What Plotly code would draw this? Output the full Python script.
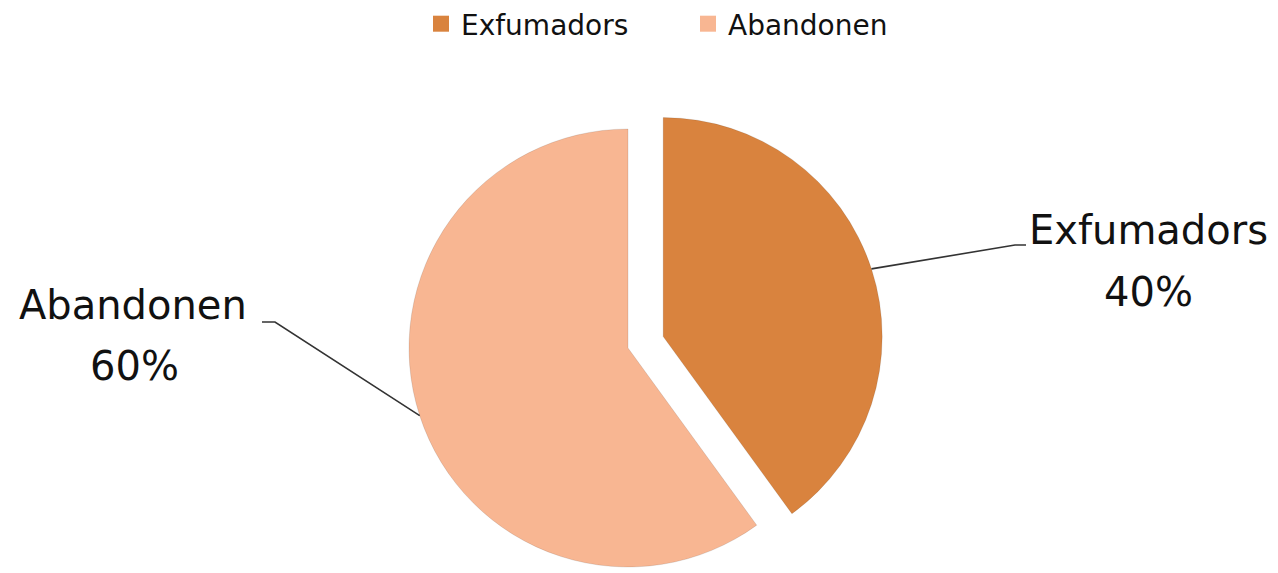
"""Exploded two-slice pie: Exfumadors vs Abandonen."""

import math

import plotly.graph_objects as go

LABELS = ["Exfumadors", "Abandonen"]
VALUES = [40, 60]
COLORS = ["#D9833E", "#F8B692"]
PERCENT_TEXT = ["40%", "60%"]

# the page body has an 8px margin, so the figure is drawn 8px in from the corner
PAGE_OFFSET = 8
WIDTH, HEIGHT = 1278 - PAGE_OFFSET, 573 - PAGE_OFFSET
FONT = "DejaVu Sans"
TEXT_COLOR = "#111111"

# pie geometry in screen pixels (y grows downward)
CENTER_PX = (628, 348)
RADIUS_PX = 219
PULL_PX = 37
PULLED = "Exfumadors"

# label layout in screen pixels: (name centre, percent centre, elbow, line end)
LABEL_LAYOUT = {
    "Exfumadors": ((1148, 230), (1148, 292), (1015, 245), (1026, 245)),
    "Abandonen": ((133, 305), (134, 366), (275, 322), (262, 322)),
}


def to_paper(px: float, py: float) -> tuple[float, float]:
    return (px - PAGE_OFFSET) / WIDTH, 1 - (py - PAGE_OFFSET) / HEIGHT


def slice_bisectors(values: list[float]) -> list[float]:
    total = float(sum(values))
    out = []
    start = 0.0
    for value in values:
        span = 360.0 * value / total
        out.append(start + span / 2)
        start += span
    return out


def pie_domain(cx: float, cy: float, r: float) -> dict:
    x0, y0 = to_paper(cx - r, cy + r)
    x1, y1 = to_paper(cx + r, cy - r)
    return {"x": [x0, x1], "y": [y0, y1]}


bisectors = slice_bisectors(VALUES)
centers = {}
for label, angle in zip(LABELS, bisectors):
    cx, cy = CENTER_PX
    if label == PULLED:
        rad = math.radians(angle)
        cx += PULL_PX * math.sin(rad)
        cy -= PULL_PX * math.cos(rad)
    centers[label] = (cx, cy)

fig = go.Figure()

# one pie per slice so the exploded slice keeps the full radius
for i, label in enumerate(LABELS):
    slice_colors = [c if j == i else "rgba(0,0,0,0)" for j, c in enumerate(COLORS)]
    line_colors = ["rgba(0,0,0,0.10)" if j == i else "rgba(0,0,0,0)" for j in range(len(LABELS))]
    cx, cy = centers[label]
    fig.add_trace(
        go.Pie(
            labels=LABELS,
            values=VALUES,
            sort=False,
            direction="clockwise",
            rotation=0,
            marker={"colors": slice_colors, "line": {"color": line_colors, "width": 1}},
            textinfo="none",
            hoverinfo="skip",
            showlegend=False,
            domain=pie_domain(cx, cy, RADIUS_PX),
        )
    )

# legend entries
for label, color in zip(LABELS, COLORS):
    fig.add_trace(
        go.Scatter(
            x=[None],
            y=[None],
            mode="markers",
            name=label,
            marker={"symbol": "square", "size": 17, "color": color},
        )
    )

# outside labels with leader lines
for label, angle, pct in zip(LABELS, bisectors, PERCENT_TEXT):
    cx, cy = centers[label]
    rad = math.radians(angle)
    tip = (cx + RADIUS_PX * math.sin(rad), cy - RADIUS_PX * math.cos(rad))
    name_pos, pct_pos, elbow, end = LABEL_LAYOUT[label]
    pts = [to_paper(*tip), to_paper(*elbow), to_paper(*end)]
    path = "M {} {} L {} {} L {} {}".format(*[v for p in pts for v in p])
    fig.add_shape(
        type="path",
        path=path,
        xref="paper",
        yref="paper",
        line={"color": "#333333", "width": 1.6},
    )
    for text, pos in ((label, name_pos), (pct, pct_pos)):
        x, y = to_paper(*pos)
        fig.add_annotation(
            x=x,
            y=y,
            xref="paper",
            yref="paper",
            text=text,
            showarrow=False,
            xanchor="center",
            yanchor="middle",
            font={"family": FONT, "size": 40, "color": TEXT_COLOR},
        )

legend_x, legend_y = to_paper(688, 24)
fig.update_layout(
    width=WIDTH,
    height=HEIGHT,
    margin={"l": 0, "r": 0, "t": 0, "b": 0, "autoexpand": False},
    paper_bgcolor="white",
    plot_bgcolor="white",
    showlegend=True,
    legend={
        "orientation": "h",
        "x": legend_x,
        "xanchor": "center",
        "y": legend_y,
        "yanchor": "middle",
        "font": {"family": FONT, "size": 28, "color": TEXT_COLOR},
        "entrywidth": 222,
    },
    xaxis={"visible": False},
    yaxis={"visible": False},
)

fig.write_html("out.html")
